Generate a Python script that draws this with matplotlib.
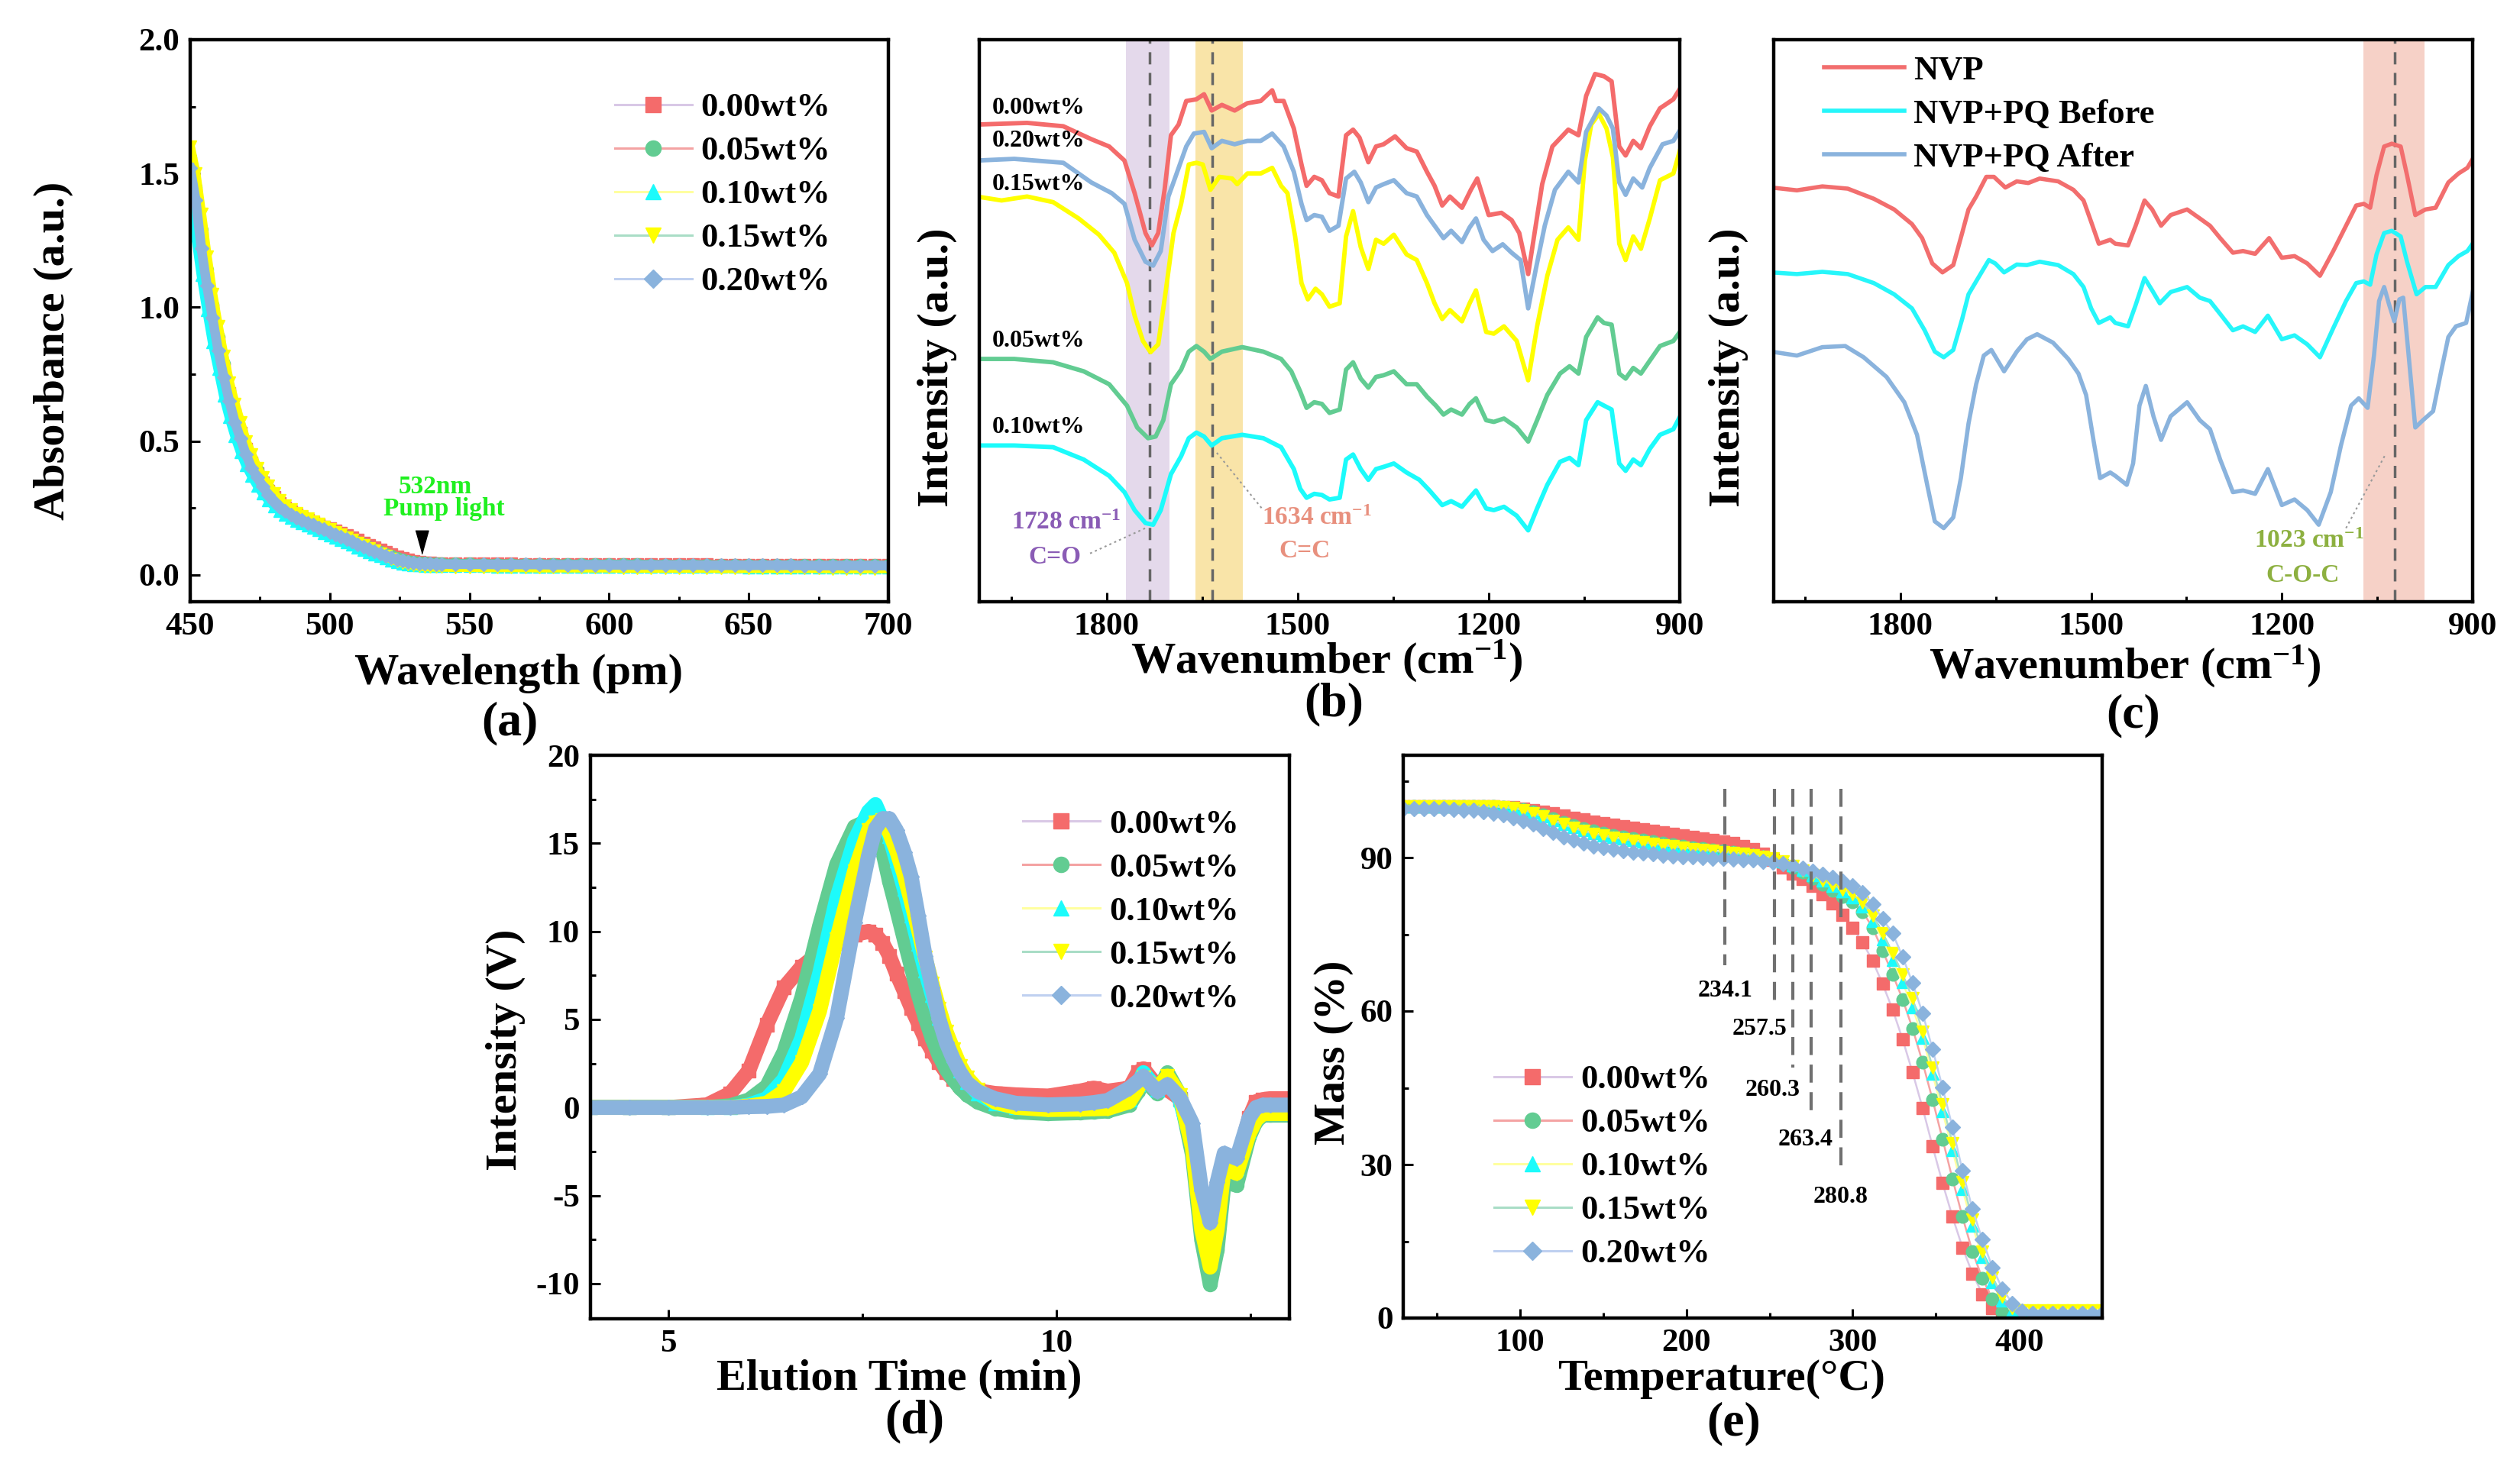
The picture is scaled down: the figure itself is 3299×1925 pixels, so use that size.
import matplotlib
matplotlib.use("Agg")
import matplotlib.pyplot as plt
import numpy as np
from matplotlib.lines import Line2D
from matplotlib.ticker import MultipleLocator, NullLocator

plt.rcParams.update({
    "font.family": ["Liberation Serif", "DejaVu Serif"],
    "font.weight": "bold",
    "axes.labelweight": "bold",
    "mathtext.fontset": "custom",
    "mathtext.bf": "Liberation Serif:bold",
    "mathtext.rm": "Liberation Serif:bold",
    "mathtext.default": "bf",
    "axes.unicode_minus": False,
    "lines.scale_dashes": False,
})

LABELS = ["0.00wt%", "0.05wt%", "0.10wt%", "0.15wt%", "0.20wt%"]
MARKER_COLORS = ["#F46B6B", "#62CC92", "#1CFBFB", "#FFFF00", "#8AB3DD"]
LINE_COLORS = ["#D9C8E6", "#F4A3A3", "#FFFFA0", "#A9DDC6", "#BFD0F0"]
MARKERS = ["s", "o", "^", "v", "D"]

# ---------------- (a) absorbance ----------------
WAVELENGTH = np.concatenate([np.arange(450, 541, 2), np.arange(545, 701, 5)])
ABS_000 = [1.52, 1.42, 1.26, 1.11, 0.99, 0.87, 0.77, 0.68, 0.60, 0.53, 0.47, 0.42, 0.38, 0.345, 0.315,
           0.29, 0.268, 0.25, 0.236, 0.224, 0.214, 0.205, 0.197, 0.189, 0.181, 0.173, 0.165, 0.157, 0.148,
           0.139, 0.130, 0.121, 0.112, 0.103, 0.094, 0.085, 0.077, 0.069, 0.062, 0.056, 0.051, 0.048, 0.046,
           0.045, 0.044, 0.044,
           0.043, 0.043, 0.042, 0.042, 0.042, 0.041, 0.041, 0.041, 0.041, 0.040, 0.040, 0.040, 0.040, 0.040,
           0.039, 0.039, 0.039, 0.039, 0.039, 0.038, 0.038, 0.038, 0.038, 0.038, 0.038, 0.037, 0.037, 0.037,
           0.037, 0.037, 0.037, 0.037]
ABS_005 = [1.56, 1.45, 1.29, 1.14, 1.01, 0.89, 0.79, 0.69, 0.61, 0.54, 0.48, 0.43, 0.39, 0.355, 0.325,
           0.295, 0.272, 0.253, 0.238, 0.225, 0.215, 0.205, 0.196, 0.187, 0.178, 0.169, 0.160, 0.151, 0.142,
           0.132, 0.123, 0.113, 0.104, 0.095, 0.086, 0.078, 0.070, 0.063, 0.057, 0.052, 0.048, 0.046, 0.045,
           0.044, 0.044, 0.043,
           0.042, 0.042, 0.041, 0.041, 0.041, 0.040, 0.040, 0.040, 0.040, 0.039, 0.039, 0.039, 0.039, 0.039,
           0.038, 0.038, 0.038, 0.038, 0.038, 0.037, 0.037, 0.037, 0.037, 0.037, 0.037, 0.036, 0.036, 0.036,
           0.036, 0.036, 0.036, 0.036]
ABS_010 = [1.40, 1.27, 1.12, 0.99, 0.87, 0.77, 0.67, 0.59, 0.52, 0.46, 0.41, 0.37, 0.335, 0.305, 0.28,
           0.258, 0.24, 0.226, 0.213, 0.203, 0.194, 0.185, 0.176, 0.167, 0.158, 0.149, 0.140, 0.131, 0.122,
           0.113, 0.104, 0.095, 0.086, 0.078, 0.070, 0.062, 0.055, 0.049, 0.044, 0.040, 0.037, 0.036, 0.035,
           0.035, 0.034, 0.034,
           0.033, 0.033, 0.033, 0.032, 0.032, 0.032, 0.032, 0.032, 0.031, 0.031, 0.031, 0.031, 0.031, 0.031,
           0.030, 0.030, 0.030, 0.030, 0.030, 0.030, 0.030, 0.029, 0.029, 0.029, 0.029, 0.029, 0.029, 0.029,
           0.028, 0.028, 0.028, 0.028]
ABS_015 = [1.60, 1.50, 1.35, 1.19, 1.05, 0.93, 0.82, 0.72, 0.64, 0.57, 0.50, 0.45, 0.40, 0.365, 0.335,
           0.305, 0.28, 0.26, 0.245, 0.23, 0.22, 0.21, 0.20, 0.19, 0.18, 0.17, 0.16, 0.15, 0.14,
           0.13, 0.12, 0.11, 0.10, 0.09, 0.08, 0.07, 0.06, 0.052, 0.046, 0.041, 0.037, 0.034, 0.032,
           0.031, 0.030, 0.030,
           0.029, 0.029, 0.028, 0.028, 0.028, 0.028, 0.027, 0.027, 0.027, 0.027, 0.027, 0.027, 0.026, 0.026,
           0.026, 0.026, 0.026, 0.026, 0.026, 0.025, 0.025, 0.025, 0.025, 0.025, 0.025, 0.025, 0.025, 0.024,
           0.024, 0.024, 0.024, 0.024]
ABS_020 = [1.52, 1.40, 1.22, 1.08, 0.96, 0.84, 0.74, 0.65, 0.57, 0.51, 0.45, 0.40, 0.365, 0.33, 0.30,
           0.275, 0.255, 0.24, 0.225, 0.213, 0.205, 0.195, 0.187, 0.178, 0.170, 0.161, 0.152, 0.143, 0.134,
           0.124, 0.115, 0.106, 0.097, 0.088, 0.080, 0.072, 0.065, 0.058, 0.053, 0.049, 0.046, 0.044, 0.043,
           0.042, 0.041, 0.041,
           0.040, 0.040, 0.040, 0.039, 0.039, 0.039, 0.039, 0.038, 0.038, 0.038, 0.038, 0.038, 0.037, 0.037,
           0.037, 0.037, 0.037, 0.037, 0.036, 0.036, 0.036, 0.036, 0.036, 0.036, 0.036, 0.035, 0.035, 0.035,
           0.035, 0.035, 0.035, 0.035]
ABSORBANCE = [ABS_000, ABS_005, ABS_010, ABS_015, ABS_020]
PUMP_NM = 533

# ---------------- (b) FTIR of composites ----------------
B_WN_000 = [2004, 1925, 1868, 1824, 1796, 1772, 1756, 1739, 1729, 1719, 1709, 1699, 1687, 1675, 1659,
            1647, 1635, 1619, 1599, 1579, 1558, 1540, 1534, 1522, 1506, 1494, 1486, 1474, 1462, 1450,
            1436, 1424, 1413, 1403, 1389, 1377, 1365, 1347, 1329, 1313, 1297, 1285, 1273, 1261, 1242,
            1228, 1218, 1200, 1180, 1164, 1152, 1138, 1128, 1116, 1100, 1075, 1059, 1047, 1033, 1019,
            1007, 995, 985, 973, 961, 947, 931, 910, 898]
B_Y_000 = [84.9, 85.2, 84.6, 82.3, 81.0, 78.5, 72.7, 65.6, 63.4, 65.6, 73.3, 83.0, 84.9, 89.1, 89.4,
           90.3, 87.4, 88.4, 87.4, 88.7, 89.1, 91.0, 89.1, 89.1, 84.2, 77.8, 74.0, 75.6, 75.0, 72.7,
           72.1, 83.0, 84.0, 82.6, 78.2, 81.0, 81.4, 82.8, 80.7, 80.1, 76.5, 74.0, 70.5, 72.1, 70.1,
           73.3, 75.3, 68.8, 69.2, 67.9, 65.6, 58.3, 65.6, 74.3, 81.0, 84.0, 83.0, 90.0, 93.9, 93.5,
           92.6, 81.0, 79.4, 82.0, 80.7, 84.6, 87.8, 89.4, 91.6]
B_WN_005 = [2004, 1945, 1884, 1836, 1796, 1768, 1752, 1735, 1723, 1711, 1699, 1683, 1671, 1659, 1647,
            1637, 1619, 1587, 1554, 1526, 1510, 1496, 1486, 1474, 1462, 1450, 1434, 1424, 1413, 1401,
            1389, 1377, 1365, 1349, 1329, 1313, 1297, 1283, 1271, 1259, 1242, 1230, 1220, 1204, 1192,
            1176, 1156, 1138, 1124, 1108, 1088, 1073, 1059, 1047, 1029, 1019, 1007, 995, 985, 973,
            961, 947, 931, 910, 898]
B_Y_005 = [43.2, 43.2, 42.6, 41.0, 38.7, 34.9, 31.0, 29.1, 29.4, 32.3, 38.7, 41.3, 44.5, 45.5, 44.5,
           43.2, 44.5, 45.3, 44.5, 43.2, 41.0, 37.4, 34.5, 35.5, 35.2, 33.6, 34.2, 41.3, 42.6, 39.7,
           38.1, 40.0, 40.3, 41.0, 38.7, 38.7, 36.5, 34.9, 33.3, 34.2, 33.3, 35.2, 36.2, 32.3, 32.0,
           32.6, 31.0, 28.5, 32.3, 36.8, 40.6, 41.9, 40.6, 47.1, 50.6, 49.6, 49.3, 40.6, 39.7, 41.6,
           40.6, 42.9, 45.5, 46.4, 48.3]
B_WN_010 = [2004, 1945, 1884, 1836, 1796, 1772, 1756, 1739, 1727, 1715, 1699, 1683, 1671, 1659, 1647,
            1635, 1619, 1587, 1554, 1526, 1506, 1496, 1486, 1474, 1462, 1450, 1434, 1424, 1413, 1401,
            1389, 1377, 1365, 1349, 1329, 1309, 1293, 1273, 1259, 1242, 1230, 1220, 1204, 1192, 1176,
            1156, 1138, 1124, 1108, 1088, 1073, 1059, 1047, 1029, 1019, 1007, 995, 985, 973, 961,
            947, 931, 910, 898]
B_Y_010 = [27.8, 27.8, 27.5, 25.3, 22.4, 19.5, 16.3, 14.0, 13.7, 16.3, 22.7, 25.9, 29.1, 30.1, 29.4,
           27.8, 29.1, 29.7, 29.1, 27.5, 23.6, 20.1, 18.5, 19.2, 19.0, 18.2, 18.5, 25.3, 26.2, 23.6,
           21.7, 23.6, 24.0, 24.6, 23.0, 21.7, 19.8, 17.2, 17.9, 16.9, 18.5, 19.8, 16.6, 16.3, 16.9,
           15.3, 12.7, 16.6, 20.8, 24.9, 25.6, 24.3, 32.3, 35.5, 34.9, 34.2, 24.6, 23.3, 25.3, 24.3,
           27.2, 29.7, 30.7, 33.3]
B_WN_015 = [2004, 1965, 1925, 1884, 1844, 1812, 1788, 1768, 1756, 1743, 1731, 1719, 1707, 1695, 1683,
            1671, 1659, 1649, 1637, 1623, 1603, 1595, 1579, 1558, 1540, 1526, 1516, 1504, 1494, 1484,
            1472, 1462, 1450, 1434, 1424, 1413, 1401, 1389, 1377, 1365, 1349, 1329, 1313, 1297, 1285,
            1273, 1261, 1242, 1230, 1220, 1204, 1192, 1176, 1156, 1138, 1124, 1108, 1092, 1075, 1059,
            1049, 1039, 1027, 1015, 1005, 995, 985, 973, 961, 947, 931, 910, 898]
B_Y_015 = [72.1, 71.4, 72.1, 71.1, 68.2, 65.3, 62.1, 56.7, 50.9, 46.4, 44.4, 45.8, 55.4, 65.6, 70.8,
           77.8, 78.1, 77.8, 73.3, 75.6, 75.3, 74.3, 76.2, 76.2, 77.2, 74.0, 72.7, 65.0, 56.7, 53.8,
           55.7, 54.7, 52.5, 53.1, 65.0, 69.5, 63.1, 59.2, 64.4, 63.7, 65.3, 61.8, 60.8, 56.7, 53.1,
           50.3, 51.9, 49.9, 53.1, 55.4, 48.0, 47.7, 49.0, 46.4, 39.4, 49.0, 58.0, 64.4, 66.6, 64.4,
           78.5, 84.9, 86.8, 84.2, 79.1, 63.7, 60.8, 65.0, 62.8, 68.2, 75.0, 76.2, 81.0]
B_WN_020 = [2004, 1945, 1868, 1824, 1792, 1772, 1756, 1739, 1727, 1715, 1703, 1691, 1675, 1663, 1647,
            1635, 1619, 1599, 1579, 1558, 1540, 1522, 1506, 1494, 1486, 1474, 1462, 1450, 1436, 1424,
            1411, 1401, 1389, 1377, 1365, 1349, 1329, 1313, 1297, 1283, 1271, 1259, 1242, 1230, 1220,
            1208, 1194, 1178, 1164, 1150, 1138, 1126, 1112, 1096, 1075, 1059, 1047, 1027, 1015, 1005,
            995, 985, 973, 959, 947, 927, 910, 898]
B_Y_020 = [78.5, 78.8, 78.1, 74.6, 72.7, 70.8, 64.4, 60.5, 59.8, 62.4, 72.1, 75.9, 81.0, 83.3, 83.6,
           80.7, 82.0, 81.4, 82.0, 82.0, 83.3, 81.0, 76.5, 70.8, 67.9, 68.8, 68.5, 66.0, 66.9, 75.3,
           76.5, 74.6, 71.1, 73.7, 74.3, 75.0, 72.7, 72.1, 68.8, 66.6, 64.7, 66.0, 64.0, 66.6, 68.2,
           64.4, 62.4, 63.6, 62.1, 60.8, 52.2, 59.2, 66.9, 73.3, 76.5, 74.6, 83.6, 87.8, 86.5, 84.2,
           74.6, 72.4, 75.3, 73.7, 77.2, 81.4, 82.0, 84.2]
B_SPECTRA = [(B_WN_000, B_Y_000), (B_WN_005, B_Y_005), (B_WN_010, B_Y_010),
             (B_WN_015, B_Y_015), (B_WN_020, B_Y_020)]
B_TEXT_Y = [87.9, 46.4, 31.0, 74.3, 82.0]
B_BANDS = [(1770, 1701, "#E4D9EB"), (1661, 1586, "#F9E4A8")]
B_PEAKS = [1732, 1634]

# ---------------- (c) FTIR NVP / PQ ----------------
C_LABELS = ["NVP", "NVP+PQ Before", "NVP+PQ After"]
C_COLORS = ["#F26E6E", "#26F6FA", "#8AB3DD"]
C_WN_NVP = [2003, 1963, 1923, 1883, 1842, 1810, 1782, 1766, 1750, 1734, 1717, 1703, 1693, 1681, 1665,
            1653, 1635, 1617, 1599, 1581, 1552, 1528, 1512, 1500, 1488, 1470, 1462, 1442, 1430, 1416,
            1404, 1390, 1375, 1349, 1329, 1313, 1297, 1277, 1261, 1242, 1220, 1200, 1180, 1160, 1140,
            1119, 1099, 1083, 1071, 1061, 1051, 1039, 1027, 1013, 1003, 990, 974, 958, 938, 922,
            908, 898]
C_Y_NVP = [73.7, 73.2, 73.9, 73.5, 71.7, 69.8, 67.2, 64.7, 60.2, 58.6, 59.9, 65.6, 69.8, 72.1, 75.6,
           75.6, 73.7, 74.8, 74.5, 75.3, 74.8, 73.3, 71.4, 67.6, 63.7, 64.4, 63.7, 63.4, 66.9, 71.4,
           69.8, 66.9, 68.8, 69.8, 68.2, 66.9, 64.7, 62.1, 62.4, 61.9, 64.7, 61.2, 61.5, 60.2, 58.0,
           62.4, 66.9, 70.5, 70.8, 70.1, 75.9, 81.0, 81.5, 81.0, 75.9, 68.8, 69.8, 70.1, 74.6, 76.2,
           77.2, 79.1]
C_WN_BEFORE = [2003, 1963, 1923, 1883, 1842, 1810, 1782, 1762, 1746, 1732, 1717, 1703, 1693, 1681, 1661,
               1651, 1637, 1617, 1601, 1581, 1552, 1528, 1512, 1500, 1488, 1470, 1462, 1442, 1430, 1416,
               1404, 1392, 1375, 1349, 1329, 1313, 1297, 1277, 1261, 1242, 1222, 1200, 1180, 1160, 1140,
               1119, 1099, 1083, 1071, 1061, 1051, 1039, 1027, 1013, 1003, 988, 974, 958, 938, 922,
               908, 898]
C_Y_BEFORE = [58.6, 58.3, 58.7, 58.3, 56.7, 54.7, 52.2, 48.3, 44.5, 43.5, 44.8, 50.3, 54.7, 57.0, 60.8,
              60.2, 58.6, 60.0, 59.9, 60.5, 59.9, 58.3, 56.0, 52.2, 49.6, 50.6, 49.6, 49.0, 52.8, 57.6,
              55.4, 53.1, 55.1, 56.0, 54.1, 53.5, 51.2, 48.3, 49.0, 48.0, 50.9, 46.7, 47.4, 45.8, 43.5,
              48.7, 53.5, 56.7, 57.0, 56.4, 61.8, 65.6, 66.0, 65.0, 60.5, 54.7, 56.0, 56.0, 59.9, 61.5,
              62.4, 64.0]
C_WN_AFTER = [2003, 1963, 1923, 1887, 1858, 1822, 1794, 1774, 1758, 1746, 1732, 1717, 1705, 1693, 1681,
              1669, 1657, 1637, 1617, 1601, 1585, 1560, 1536, 1520, 1508, 1496, 1486, 1470, 1462, 1444,
              1434, 1424, 1414, 1402, 1390, 1375, 1349, 1329, 1313, 1297, 1277, 1261, 1242, 1222, 1200,
              1180, 1160, 1142, 1123, 1107, 1091, 1079, 1065, 1055, 1047, 1039, 1031, 1023, 1015, 1009,
              1001, 990, 978, 962, 950, 938, 926, 910, 898]
C_Y_AFTER = [44.5, 43.8, 45.3, 45.5, 43.5, 40.0, 35.5, 29.7, 20.8, 14.3, 13.1, 15.0, 22.0, 31.7, 38.7,
             43.8, 44.8, 41.0, 44.5, 46.7, 47.6, 46.1, 43.2, 40.6, 36.8, 28.5, 22.0, 23.0, 22.4, 20.8,
             24.6, 34.9, 38.4, 33.0, 28.8, 33.0, 35.5, 32.3, 30.7, 25.3, 19.5, 19.8, 19.2, 23.6, 17.2,
             18.2, 16.3, 13.7, 19.5, 27.8, 34.9, 36.2, 34.5, 43.8, 53.5, 56.0, 52.8, 49.9, 53.8, 54.1,
             44.5, 31.0, 32.3, 33.9, 40.6, 47.1, 49.0, 49.6, 56.0]
C_SPECTRA = [(C_WN_NVP, C_Y_NVP), (C_WN_BEFORE, C_Y_BEFORE), (C_WN_AFTER, C_Y_AFTER)]
C_BAND = (1072, 975, "#F6D1C7")
C_PEAK = 1022

# ---------------- (d) GPC ----------------
ELUTION = [4.0, 4.5, 5.0, 5.5, 5.8, 6.04, 6.27, 6.49, 6.72, 6.95, 7.17, 7.40, 7.58, 7.67, 7.76,
           7.85, 7.94, 8.04, 8.13, 8.22, 8.31, 8.40, 8.49, 8.58, 8.67, 8.76, 8.85, 8.99, 9.21, 9.48,
           9.89, 10.30, 10.48, 10.66, 10.94, 11.05, 11.12, 11.30, 11.43, 11.59, 11.75, 11.87, 11.98, 12.07, 12.16,
           12.32, 12.48, 12.57, 12.66, 12.75, 13.0]
GPC_000 = [0.0, 0.0, 0.0, 0.15, 0.8, 2.1, 4.7, 6.8, 8.0, 8.8, 9.35, 9.8, 10.0, 9.8, 9.35,
           8.6, 7.6, 6.6, 5.66, 4.8, 3.9, 3.2, 2.56, 2.0, 1.6, 1.3, 1.1, 0.95, 0.8, 0.72,
           0.65, 0.93, 1.1, 0.93, 1.1, 2.0, 2.2, 1.2, 1.0, 0.5, -1.9, -5.5, -7.2, -5.0, -3.0,
           -3.2, -0.6, 0.33, 0.45, 0.5, 0.5]
GPC_005 = [0.0, 0.0, 0.0, 0.0, 0.1, 0.43, 1.2, 3.14, 6.24, 10.31, 13.8, 15.94, 16.3, 15.8, 14.6,
           12.84, 11.3, 9.54, 8.0, 6.43, 5.1, 3.92, 2.95, 2.17, 1.6, 1.1, 0.72, 0.3, -0.06, -0.25,
           -0.35, -0.3, -0.25, -0.2, 0.14, 0.9, 1.59, 0.8, 1.98, 0.7, -2.67, -7.52, -10.04, -8.1, -4.22,
           -4.42, -1.7, -0.8, -0.44, -0.44, -0.44]
GPC_010 = [0.0, 0.0, 0.0, 0.0, 0.0, 0.14, 0.5, 1.59, 3.92, 7.6, 11.86, 15.16, 16.8, 17.2, 16.3,
           15.4, 14.0, 12.4, 10.9, 9.3, 7.79, 6.4, 5.08, 3.9, 2.95, 2.1, 1.45, 0.8, 0.24, 0.0,
           -0.06, 0.0, 0.02, 0.06, 0.43, 1.3, 1.98, 1.0, 1.59, 0.43, -2.09, -6.55, -8.49, -6.55, -3.06,
           -3.45, -1.32, -0.5, -0.25, -0.25, -0.25]
GPC_015 = [0.0, 0.0, 0.0, 0.0, 0.0, 0.08, 0.24, 0.91, 2.56, 5.47, 9.54, 13.42, 15.74, 16.2, 16.3,
           15.6, 14.6, 13.2, 11.7, 10.12, 8.5, 7.02, 5.6, 4.3, 3.3, 2.37, 1.7, 1.0, 0.3, 0.0,
           -0.12, -0.1, -0.08, -0.06, 0.33, 1.1, 1.69, 1.1, 1.78, 0.72, -2.28, -6.94, -9.07, -6.94, -3.45,
           -3.74, -1.51, -0.7, -0.35, -0.35, -0.35]
GPC_020 = [0.0, 0.0, 0.0, 0.0, 0.0, 0.04, 0.06, 0.14, 0.6, 1.9, 5.08, 10.5, 14.3, 15.84, 16.4,
           16.4, 15.74, 14.5, 13.1, 10.9, 8.6, 6.8, 5.0, 3.7, 2.76, 2.0, 1.4, 0.9, 0.5, 0.24,
           0.15, 0.2, 0.28, 0.4, 1.1, 1.5, 1.78, 0.91, 1.3, 0.55, -0.9, -4.7, -6.55, -4.22, -2.6,
           -2.9, -0.6, 0.0, 0.14, 0.14, 0.14]
GPC = [GPC_000, GPC_005, GPC_010, GPC_015, GPC_020]

# ---------------- (e) TGA ----------------
TEMP = np.arange(30, 451, 6)
MASS_000 = [100.0, 100.0, 100.0, 100.0, 100.0, 100.0, 100.0, 100.0, 100.0, 100.0,
            99.9, 99.8, 99.6, 99.3, 99.0, 98.6, 98.2, 97.8, 97.4, 97.0,
            96.7, 96.4, 96.1, 95.8, 95.5, 95.2, 94.9, 94.6, 94.3, 94.0,
            93.7, 93.5, 93.2, 92.8, 92.3, 91.7, 90.8, 89.5, 88.0, 86.9,
            85.8, 84.5, 82.8, 81.0, 78.8, 76.3, 73.4, 69.8, 65.3, 60.3,
            54.5, 48.0, 41.1, 33.6, 26.4, 19.8, 13.8, 8.7, 4.7, 1.9,
            0.4, 0.2, 0.2, 0.2, 0.2, 0.2, 0.2, 0.2, 0.2, 0.2, 0.2]
MASS_005 = [100.0, 100.0, 100.0, 100.0, 100.0, 100.0, 100.0, 100.0, 100.0, 100.0,
            99.9, 99.7, 99.4, 98.9, 98.3, 97.6, 96.9, 96.3, 95.7, 95.2,
            94.8, 94.4, 94.1, 93.8, 93.5, 93.2, 92.9, 92.6, 92.3, 92.0,
            91.8, 91.5, 91.3, 91.0, 90.7, 90.4, 90.0, 89.5, 88.9, 88.1,
            87.1, 86.0, 84.8, 83.6, 82.4, 81.3, 79.4, 76.3, 71.8, 67.2,
            62.3, 56.6, 50.0, 42.7, 35.0, 27.2, 19.8, 13.0, 7.7, 3.8,
            1.2, 0.3, 0.3, 0.3, 0.3, 0.3, 0.3, 0.3, 0.3, 0.3, 0.3]
MASS_010 = [100.0, 100.0, 100.0, 100.0, 100.0, 100.0, 100.0, 100.0, 100.0, 100.0,
            99.9, 99.7, 99.4, 98.8, 98.1, 97.3, 96.6, 95.9, 95.3, 94.8,
            94.4, 94.0, 93.7, 93.4, 93.1, 92.8, 92.5, 92.3, 92.0, 91.8,
            91.6, 91.4, 91.2, 91.0, 90.8, 90.6, 90.3, 89.9, 89.3, 88.5,
            87.6, 86.6, 85.5, 84.5, 83.5, 82.3, 80.5, 77.6, 74.0, 70.0,
            65.6, 60.7, 54.8, 47.7, 40.4, 32.8, 25.2, 18.0, 11.9, 7.0,
            3.5, 1.4, 0.9, 0.9, 0.9, 0.9, 0.9, 0.9, 0.9, 0.9, 0.9]
MASS_015 = [100.0, 100.0, 100.0, 100.0, 100.0, 100.0, 100.0, 100.0, 100.0, 100.0,
            99.9, 99.7, 99.3, 98.7, 98.0, 97.2, 96.5, 95.8, 95.2, 94.7,
            94.3, 93.9, 93.6, 93.3, 93.0, 92.7, 92.4, 92.2, 91.9, 91.7,
            91.5, 91.3, 91.1, 90.9, 90.7, 90.5, 90.2, 89.8, 89.2, 88.4,
            87.5, 86.5, 85.5, 84.6, 83.8, 82.8, 81.2, 78.6, 75.2, 71.4,
            67.2, 62.5, 56.0, 49.0, 41.8, 34.2, 26.6, 19.3, 13.0, 7.9,
            4.2, 1.9, 1.5, 1.5, 1.5, 1.5, 1.5, 1.5, 1.5, 1.5, 1.5]
MASS_020 = [99.5, 99.5, 99.5, 99.5, 99.5, 99.4, 99.3, 99.2, 99.0, 98.7,
            98.3, 97.8, 97.2, 96.5, 95.7, 94.9, 94.1, 93.4, 92.8, 92.3,
            91.9, 91.6, 91.3, 91.1, 90.9, 90.7, 90.5, 90.3, 90.2, 90.1,
            90.0, 89.9, 89.8, 89.7, 89.6, 89.5, 89.3, 89.1, 88.8, 88.4,
            87.9, 87.3, 86.7, 86.1, 85.4, 84.5, 83.2, 80.9, 78.0, 75.2,
            70.6, 65.5, 59.6, 52.6, 45.1, 37.3, 28.8, 21.3, 15.3, 9.9,
            5.7, 2.9, 1.3, 0.9, 0.9, 0.9, 0.9, 0.9, 0.9, 0.9, 0.9]
MASS = [MASS_000, MASS_005, MASS_010, MASS_015, MASS_020]
ONSET_T = [223, 253, 264, 275, 293]
ONSET_LOW = [68.9, 62.0, 49.0, 39.5, 28.0]
ONSET_TEXT = ["234.1", "257.5", "260.3", "263.4", "280.8"]
ONSET_TEXT_XY = [(223.5, 64.0), (244, 56.5), (252, 44.5), (271.6, 34.9), (292.6, 23.6)]

# ---------------- layout ----------------
W, H = 3299, 1925
fig = plt.figure(figsize=(W / 100, H / 100), dpi=100)


def add_axes(left, top, right, bottom):
    return fig.add_axes([left / W, 1 - bottom / H, (right - left) / W, (bottom - top) / H])


def style(ax, xmaj, xmin, ymaj=None, ymin=None):
    for s in ax.spines.values():
        s.set_linewidth(3.2)
    ax.tick_params(which="both", direction="in", top=False, right=False,
                   labelsize=31, width=2.2, pad=10)
    ax.tick_params(which="major", length=9)
    ax.tick_params(which="minor", length=5)
    ax.xaxis.set_major_locator(MultipleLocator(xmaj))
    ax.xaxis.set_minor_locator(MultipleLocator(xmin))
    if ymaj is None:
        ax.yaxis.set_major_locator(NullLocator())
        ax.yaxis.set_minor_locator(NullLocator())
    else:
        ax.yaxis.set_major_locator(MultipleLocator(ymaj))
        ax.yaxis.set_minor_locator(MultipleLocator(ymin))


def labels(ax, xl, yl, xpos, ypos):
    ax.set_xlabel(xl, fontsize=42)
    ax.set_ylabel(yl, fontsize=42)
    ax.xaxis.set_label_coords(*xpos)
    ax.yaxis.set_label_coords(*ypos)
    ax.xaxis.label.set_verticalalignment("center")
    ax.yaxis.label.set_verticalalignment("center")


def series_handles():
    hs = []
    for m, mc, lc in zip(MARKERS, MARKER_COLORS, LINE_COLORS):
        hs.append(Line2D([], [], color=lc, lw=2.2, marker=m, ms=12 if m == "D" else 14.5,
                         mfc=mc, mec=mc))
    return hs


def series_legend(ax, anchor):
    ax.legend(series_handles(), LABELS, loc="upper left", bbox_to_anchor=anchor,
              frameon=False, fontsize=32, handlelength=2.27, handletextpad=0.27,
              labelspacing=0.38, borderpad=0, borderaxespad=0)


def panel(x, y, s):
    fig.text(x / W, 1 - y / H, s, ha="center", va="center", fontsize=46)


# (a)
ax = add_axes(249, 52, 1163, 788)
for ys, m, mc in zip(ABSORBANCE, MARKERS, MARKER_COLORS):
    ax.plot(WAVELENGTH, ys, color=mc, lw=9, solid_joinstyle="round")
    ax.plot(WAVELENGTH, ys, ls="none", marker=m, ms=9 if m == "D" else 11.5, mfc=mc, mec=mc)
ax.set_xlim(450, 700)
ax.set_ylim(-0.1, 2.0)
style(ax, 50, 25, 0.5, 0.25)
labels(ax, "Wavelength (pm)", "Absorbance (a.u.)", (0.470, -0.128), (-0.196, 0.447))
series_legend(ax, (0.608, 0.906))
ax.plot([PUMP_NM], [0.1225], ls="none", color="black", ms=22,
        marker=[(-0.28, 0.5), (0.28, 0.5), (0, -0.5)])
ax.text(537.6, 0.33, "532nm", color="#20F020", fontsize=24, ha="center", va="center")
ax.text(540.8, 0.248, "Pump light", color="#20F020", fontsize=24, ha="center", va="center")
panel(667, 947, "(a)")

# (b)
ax = add_axes(1282, 52, 2199, 788)
for lo, hi, c in B_BANDS:
    ax.axvspan(lo, hi, color=c, lw=0, zorder=0)
for p in B_PEAKS:
    ax.axvline(p, color="#666666", lw=2.5, dashes=(11.5, 8), zorder=1)
for (wn, ys), c in zip(B_SPECTRA, MARKER_COLORS):
    ax.plot(wn, ys, color=c, lw=4.2, zorder=2, solid_joinstyle="round")
for lab, y in zip(LABELS, B_TEXT_Y):
    ax.text(1980, y, lab, fontsize=23, ha="left", va="center", zorder=3)
ax.text(1864, 14.0, "1728 cm$^{-1}$", color="#8A5CB5", fontsize=24, ha="center", va="center")
ax.text(1881, 7.9, "C=O", color="#8A5CB5", fontsize=24, ha="center", va="center")
ax.plot([1826, 1739], [8.6, 13.1], color="#999999", lw=1.5, dashes=(2, 3))
ax.text(1470, 14.9, "1634 cm$^{-1}$", color="#E8907E", fontsize=24, ha="center", va="center")
ax.text(1489.5, 9.1, "C=C", color="#E8907E", fontsize=24, ha="center", va="center")
ax.plot([1627, 1554], [26.5, 16.3], color="#999999", lw=1.5, dashes=(2, 3))
ax.set_xlim(2000, 900)
ax.set_ylim(0, 100)
style(ax, 300, 150)
labels(ax, "Wavenumber (cm$^{-1}$)", "Intensity (a.u.)", (0.496, -0.106), (-0.06, 0.417))
panel(1746, 922, "(b)")

# (c)
ax = add_axes(2321.6, 52, 3236.8, 788)
ax.axvspan(C_BAND[0], C_BAND[1], color=C_BAND[2], lw=0, zorder=0)
ax.axvline(C_PEAK, color="#666666", lw=2.5, dashes=(11.5, 8), zorder=1)
for (wn, ys), c, lab in zip(C_SPECTRA, C_COLORS, C_LABELS):
    ax.plot(wn, ys, color=c, lw=4.0, label=lab, zorder=2, solid_joinstyle="round")
ax.text(1156.7, 10.8, "1023 cm$^{-1}$", color="#8DB040", fontsize=24, ha="center", va="center")
ax.text(1166.7, 4.7, "C-O-C", color="#8DB040", fontsize=24, ha="center", va="center")
ax.plot([1099, 1037], [13.1, 26.2], color="#999999", lw=1.5, dashes=(2, 3))
ax.set_xlim(2000, 900)
ax.set_ylim(0, 100)
style(ax, 300, 150)
labels(ax, "Wavenumber (cm$^{-1}$)", "Intensity (a.u.)", (0.503, -0.1155), (-0.064, 0.417))
ax.legend(loc="upper left", bbox_to_anchor=(0.0726, 0.972), frameon=False, fontsize=32,
          handlelength=2.36, handletextpad=0.27, labelspacing=0.38, borderpad=0, borderaxespad=0)
panel(2793, 937, "(c)")

# (d)
ax = add_axes(773, 989, 1688, 1727)
for ys, m, mc in zip(GPC, MARKERS, MARKER_COLORS):
    ax.plot(ELUTION, ys, color=mc, lw=14, solid_joinstyle="round", solid_capstyle="round")
    ax.plot(ELUTION, ys, ls="none", marker=m, ms=10 if m == "D" else 13, mfc=mc, mec=mc)
ax.set_xlim(4, 13)
ax.set_ylim(-12, 20)
style(ax, 5, 2.5, 5, 2.5)
labels(ax, "Elution Time (min)", "Intensity (V)", (0.4423, -0.107), (-0.121, 0.477))
series_legend(ax, (0.6186, 0.904))
panel(1197, 1861.5, "(d)")

# (e)
ax = add_axes(1837.5, 989, 2752, 1726)
for ys, m, mc, lc in zip(MASS, MARKERS, MARKER_COLORS, LINE_COLORS):
    ax.plot(TEMP, ys, color=lc, lw=1.8, marker=m, ms=10.5 if m == "D" else 12, mfc=mc, mec=mc)
for t, low in zip(ONSET_T, ONSET_LOW):
    ax.plot([t, t], [103.5, low], color="#707070", lw=3, dashes=(17, 9))
for s, (x, y) in zip(ONSET_TEXT, ONSET_TEXT_XY):
    ax.text(x, y, s, fontsize=23, ha="center", va="center")
ax.set_xlim(30, 450)
ax.set_ylim(0, 110)
style(ax, 100, 50, 30, 15)
labels(ax, "Temperature(\u00b0C)", "Mass (%)", (0.4555, -0.1085), (-0.10, 0.4715))
series_legend(ax, (0.1296, 0.4505))
panel(2269.6, 1864.6, "(e)")

fig.savefig("out.png", dpi=100)
